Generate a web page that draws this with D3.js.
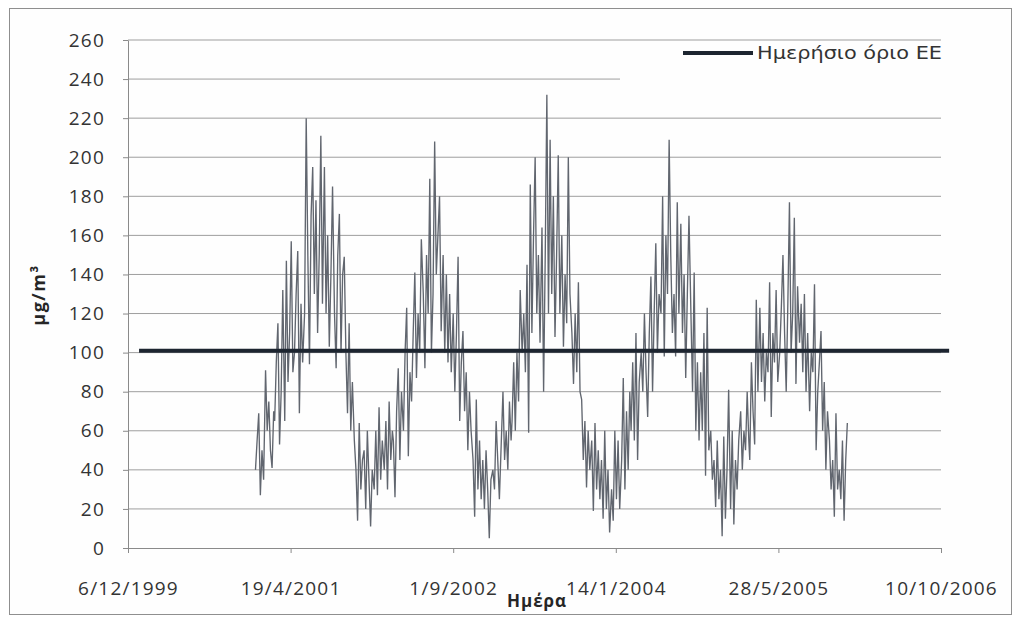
<!DOCTYPE html>
<html>
<head>
<meta charset="utf-8">
<style>
  body { margin: 0; background: #ffffff; }
  .tick text { font-family: "Open Sans", sans-serif; font-size: 19px; letter-spacing: 1.2px; fill: #333333; }
  .axis path, .axis line { stroke: #8a8a8a; }
  .grid line { stroke: #9e9e9e; stroke-width: 1px; }
  .title { font-family: "Open Sans", sans-serif; font-weight: bold; fill: #262626; }
</style>
</head>
<body>
<div id="chart"></div>
<script src="https://d3js.org/d3.v7.min.js"></script>
<script>
var width = 1021, height = 621;

// axis settings
var yTicks = [0, 20, 40, 60, 80, 100, 120, 140, 160, 180, 200, 220, 240, 260];
var xTickLabels = ["6/12/1999", "19/4/2001", "1/9/2002", "14/1/2004", "28/5/2005", "10/10/2006"];
var xStart = "1999-12-06", xEnd = "2006-10-10", tickStepDays = 500;

// EU daily limit line
var limitName = "Ημερήσιο όριο ΕΕ";
var limitValue = 101;
var limitDates = ["2000-01-09", "2006-11-04"];

// daily series, sampled on these days of each month (6 per month)
var readingDays = [1, 6, 11, 16, 21, 26];
var readingYears = [2001, 2002, 2003, 2004, 2005];
var readings2001 = [
  40, 55, 69, 27, 50, 35,   91, 60, 75, 50, 41, 70,   65, 95, 115, 53, 80, 132,
  65, 147, 85, 110, 157, 90,   100, 130, 152, 69, 125, 95,   120, 220, 150, 94, 170, 195,
  130, 178, 110, 150, 211, 125,   195, 120, 160, 103, 140, 185,   120, 92, 150, 171, 100, 140,
  149, 100, 69, 115, 60, 85,   55, 40, 14, 64, 30, 45,   50, 20, 60, 35, 11, 40
];
var readings2002 = [
  30, 60, 27, 72, 35, 55,   40, 65, 30, 75, 45, 60,   55, 26, 70, 92, 45, 80,
  60, 100, 123, 47, 90, 75,   110, 141, 87, 120, 100, 158,   130, 92, 150, 120, 189, 100,
  130, 208, 140, 160, 180, 111,   150, 100, 140, 95, 130, 90,   120, 80, 110, 149, 65, 95,
  111, 70, 90, 50, 80, 60,   45, 16, 76, 30, 55, 25,   45, 20, 50, 30, 5, 35
];
var readings2003 = [
  40, 30, 65, 45, 25, 50,   80, 45, 60, 40, 75, 55,   65, 95, 60, 100, 75, 132,
  100, 120, 90, 145, 59, 186,   110, 160, 200, 120, 150, 105,   164, 80, 150, 232, 120, 209,
  130, 180, 108, 150, 201, 120,   160, 103, 140, 115, 200, 130,   110, 84, 120, 90, 136, 80,
  76, 45, 65, 31, 60, 40,   55, 19, 64, 30, 50, 25,   45, 15, 60, 20, 40, 8
];
var readings2004 = [
  30, 14, 60, 25, 55, 20,   45, 87, 30, 70, 40, 80,   60, 95, 55, 110, 45, 85,
  100, 80, 120, 90, 67, 110,   139, 80, 120, 156, 100, 130,   120, 180, 98, 160, 130, 209,
  150, 110, 130, 98, 177, 120,   166, 110, 140, 87, 130, 170,   120, 80, 141, 60, 95, 55,
  90, 60, 110, 37, 123, 50,   60, 35, 45, 21, 55, 25,   40, 6, 57, 15, 40, 81
];
var readings2005 = [
  20, 60, 12, 45, 30, 55,   70, 40, 60, 50, 80, 55,   45, 95, 70, 53, 127, 80,
  123, 85, 110, 75, 100, 90,   136, 67, 110, 95, 132, 85,   100, 123, 150, 110, 80, 125,
  177, 100, 120, 169, 84, 134,   105, 125, 90, 130, 80, 110,   70, 100, 90, 135, 50, 80,
  95, 111, 60, 85, 40, 70,   55, 30, 45, 16, 69, 30,   40, 25, 55, 14, 45, 64
];
var readingsByYear = [readings2001, readings2002, readings2003, readings2004, readings2005];

var parse = d3.utcParse("%Y-%m-%d");

var series = [];
readingYears.forEach(function (yr, yi) {
  var vals = readingsByYear[yi];
  for (var m = 0; m < 12; m++) {
    readingDays.forEach(function (day, k) {
      series.push({ date: new Date(Date.UTC(yr, m, day)), value: vals[m * 6 + k] });
    });
  }
});

var svg = d3.select("#chart").append("svg")
  .attr("width", width)
  .attr("height", height);

// chart border
svg.append("rect")
  .attr("x", 9.5).attr("y", 8.5)
  .attr("width", 1002).attr("height", 606)
  .attr("fill", "#fefefe")
  .attr("stroke", "#8f8f8f");

var x = d3.scaleUtc()
  .domain([parse(xStart), parse(xEnd)])
  .range([128, 941]);

var y = d3.scaleLinear()
  .domain([0, 260])
  .range([548, 40]);

var xTickDates = xTickLabels.map(function (d, i) {
  return d3.utcDay.offset(parse(xStart), i * tickStepDays);
});

// gridlines
svg.append("g").attr("class", "grid")
  .selectAll("line")
  .data(yTicks.slice(1))
  .enter().append("line")
  .attr("x1", x.range()[0]).attr("x2", x.range()[1])
  .attr("y1", function (d) { return y(d); })
  .attr("y2", function (d) { return y(d); });

// data line
var line = d3.line()
  .x(function (d) { return x(d.date); })
  .y(function (d) { return y(d.value); });

svg.append("path")
  .datum(series)
  .attr("fill", "none")
  .attr("stroke", "#61666f")
  .attr("stroke-width", 1.35)
  .attr("stroke-linejoin", "miter")
  .attr("d", line);

// limit line
svg.append("path")
  .datum(limitDates.map(function (d) { return { date: parse(d), value: limitValue }; }))
  .attr("fill", "none")
  .attr("stroke", "#1d2530")
  .attr("stroke-width", 4)
  .attr("d", line);

// axes
var yAxis = svg.append("g").attr("class", "axis")
  .attr("transform", "translate(" + x.range()[0] + ",0)")
  .call(d3.axisLeft(y).tickValues(yTicks).tickSize(5).tickSizeOuter(0).tickPadding(18));

var xAxis = svg.append("g").attr("class", "axis")
  .attr("transform", "translate(0," + y(0) + ")")
  .call(d3.axisBottom(x).tickValues(xTickDates).tickSize(5).tickSizeOuter(0)
    .tickFormat(function (d, i) { return xTickLabels[i]; }));
xAxis.selectAll("text").attr("y", 47).attr("dy", 0);

// legend
svg.append("rect")
  .attr("x", 620).attr("y", 44)
  .attr("width", 384).attr("height", 36)
  .attr("fill", "#fefefe");
svg.append("line")
  .attr("x1", 683).attr("x2", 753)
  .attr("y1", 53).attr("y2", 53)
  .attr("stroke", "#1d2530")
  .attr("stroke-width", 4);
svg.append("text")
  .attr("x", 757).attr("y", 59)
  .attr("font-family", "DejaVu Sans, sans-serif")
  .attr("font-size", 18)
  .attr("fill", "#333")
  .attr("textLength", 185)
  .attr("lengthAdjust", "spacingAndGlyphs")
  .text(limitName);

// axis titles
svg.append("text")
  .attr("class", "title")
  .attr("transform", "translate(45,295) rotate(-90)")
  .attr("text-anchor", "middle")
  .attr("font-size", 18)
  .attr("letter-spacing", 1.5)
  .text("µg/m³");

svg.append("text")
  .attr("class", "title")
  .attr("x", 537).attr("y", 607)
  .attr("text-anchor", "middle")
  .attr("font-size", 17)
  .attr("letter-spacing", 1)
  .text("Ημέρα");
</script>
</body>
</html>
